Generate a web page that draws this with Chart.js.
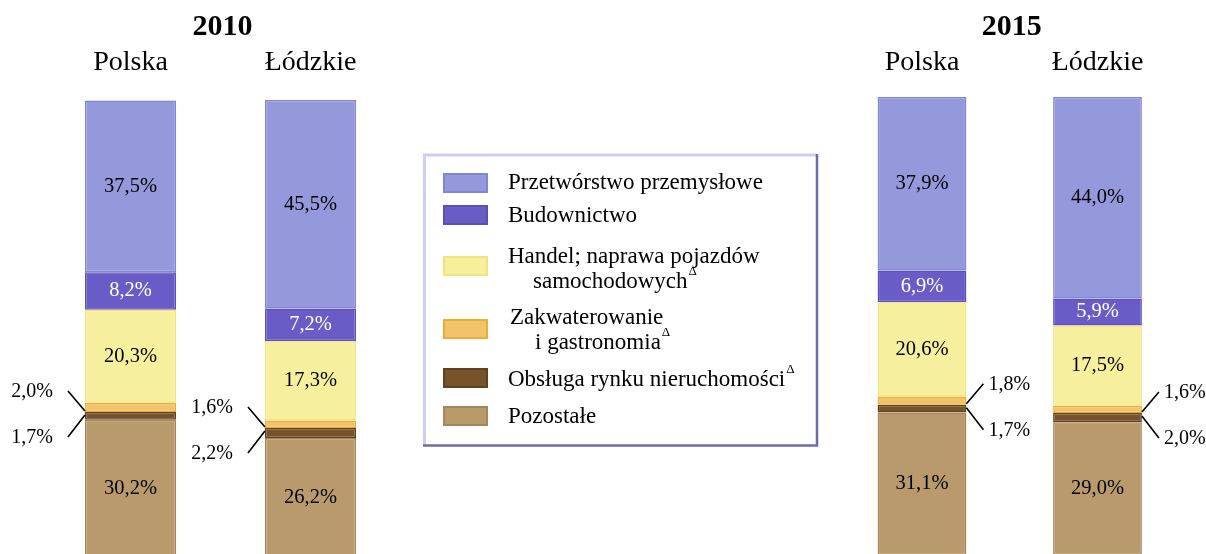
<!DOCTYPE html>
<html>
<head>
<meta charset="utf-8">
<script src="https://cdn.jsdelivr.net/npm/chart.js@4/dist/chart.umd.min.js"></script>
<style>
  html, body { margin: 0; padding: 0; background: #ffffff; overflow: hidden; width: 1206px; height: 554px; }
  canvas { position: absolute; left: 0; top: 0; }
</style>
</head>
<body>
<canvas id="c2010" width="1206" height="560" style="width:1206px;height:560px"></canvas>
<canvas id="c2015" width="1206" height="560" style="width:1206px;height:560px"></canvas>
<script>
// ---------- DATA ----------
const categories = ['Polska', 'Łódzkie'];
const years = ['2010', '2015'];

const przetworstwo2010   = [37.5, 45.5];
const budownictwo2010    = [8.2, 7.2];
const handel2010         = [20.3, 17.3];
const zakwaterowanie2010 = [2.0, 1.6];
const obsluga2010        = [1.7, 2.2];
const pozostale2010      = [30.2, 26.2];

const przetworstwo2015   = [37.9, 44.0];
const budownictwo2015    = [6.9, 5.9];
const handel2015         = [20.6, 17.5];
const zakwaterowanie2015 = [1.8, 1.6];
const obsluga2015        = [1.7, 2.0];
const pozostale2015      = [31.1, 29.0];

const seriesNames = [
  'Przetwórstwo przemysłowe',
  'Budownictwo',
  'Handel; naprawa pojazdów samochodowych',
  'Zakwaterowanie i gastronomia',
  'Obsługa rynku nieruchomości',
  'Pozostałe'
];

// ---------- STYLE ----------
const fills   = ['#9598da', '#6a5cc6', '#f6ef9e', '#f1c46c', '#76532b', '#b99a6d'];
const borders = ['#8186d2', '#5b4fb8', '#f0e57c', '#eeac30', '#5f4220', '#a68558'];
const valueColors = ['#000', '#fff', '#000', '#000', '#000', '#000'];
const FONT = '"Liberation Serif", "Times New Roman", serif';
const fmt = v => v.toFixed(1).replace('.', ',') + '%';

function buildDatasets(p, b, h, z, o, r) {
  // stacking order bottom -> top
  const order = [5, 4, 3, 2, 1, 0];
  const vals = [p, b, h, z, o, r];
  return order.map(k => ({
    label: seriesNames[k],
    data: vals[k],
    seriesIndex: k,
    small: (k === 3 || k === 4),
    backgroundColor: fills[k],
    borderColor: borders[k],
    borderWidth: 1.5,
    borderSkipped: false,
    categoryPercentage: 1.0,
    barPercentage: 0.506
  }));
}

function drawLegend(ctx) {
  ctx.save();
  // box
  ctx.fillStyle = '#ffffff';
  ctx.fillRect(424, 154, 393, 292);
  ctx.strokeStyle = '#cdcdf7';
  ctx.lineWidth = 3;
  ctx.beginPath();
  ctx.moveTo(424.5, 446); ctx.lineTo(424.5, 155); ctx.lineTo(816, 155);
  ctx.stroke();
  ctx.strokeStyle = '#6c6ca6';
  ctx.lineWidth = 2.5;
  ctx.beginPath();
  ctx.moveTo(817, 154); ctx.lineTo(817, 445.5); ctx.lineTo(423, 445.5);
  ctx.stroke();

  const swTops = [173, 205, 256, 319, 368, 406];
  const lines = [
    [[seriesNames[0], 508, 183, false]],
    [[seriesNames[1], 508, 216, false]],
    [['Handel; naprawa pojazdów', 508, 257, false], ['samochodowych', 533, 282, true]],
    [['Zakwaterowanie', 510, 318, false], ['i gastronomia', 535, 343, true]],
    [['Obsługa rynku nieruchomości', 508, 380, true]],
    [['Pozostałe', 508, 417, false]]
  ];
  for (let k = 0; k < 6; k++) {
    ctx.fillStyle = fills[k];
    ctx.fillRect(443, swTops[k], 45, 20);
    ctx.strokeStyle = borders[k];
    ctx.lineWidth = 2;
    ctx.strokeRect(444, swTops[k] + 1, 43, 18);
    ctx.fillStyle = '#000';
    ctx.textAlign = 'left';
    ctx.textBaseline = 'middle';
    lines[k].forEach(([t, x, y, delta]) => {
      ctx.font = '23px ' + FONT;
      ctx.fillText(t, x, y);
      if (delta) {
        const w = ctx.measureText(t).width;
        ctx.font = '13px ' + FONT;
        ctx.fillText('Δ', x + w + 1, y - 10);
      }
    });
  }
  ctx.restore();
}

function makePlugin(year, side, withLegend) {
  return {
    id: 'annot' + year,
    afterDatasetsDraw(chart) {
      const ctx = chart.ctx;
      const xs = chart.scales.x;
      ctx.save();
      // year title
      ctx.fillStyle = '#000';
      ctx.textAlign = 'center';
      ctx.textBaseline = 'middle';
      ctx.font = 'bold 30px ' + FONT;
      ctx.fillText(year, (xs.getPixelForValue(0) + xs.getPixelForValue(1)) / 2 + 2, 27);
      // category labels
      ctx.textBaseline = 'alphabetic';
      ctx.font = '28px ' + FONT;
      categories.forEach((c, i) => ctx.fillText(c, xs.getPixelForValue(i), 70));

      // values inside bars
      ctx.font = '20.5px ' + FONT;
      ctx.textBaseline = 'middle';
      chart.data.datasets.forEach((ds, di) => {
        if (ds.small) return;
        const meta = chart.getDatasetMeta(di);
        meta.data.forEach((el, i) => {
          const p = el.getProps(['x', 'y', 'base'], true);
          ctx.fillStyle = valueColors[ds.seriesIndex];
          ctx.fillText(fmt(ds.data[i]), p.x, (p.y + p.base) / 2);
        });
      });

      // leader labels for small segments
      ctx.font = '20px ' + FONT;
      const diZ = chart.data.datasets.findIndex(d => d.seriesIndex === 3);
      const diO = chart.data.datasets.findIndex(d => d.seriesIndex === 4);
      const metaO = chart.getDatasetMeta(diO);
      ctx.strokeStyle = '#000';
      ctx.lineWidth = 1.6;
      ctx.fillStyle = '#000';
      metaO.data.forEach((el, i) => {
        const p = el.getProps(['x', 'y', 'base', 'width'], true);
        const boundary = p.y;
        const dir = side === 'left' ? -1 : 1;
        const ex = side === 'left' ? p.x - p.width / 2 : p.x + p.width / 2;
        const upEnd = [ex, boundary - 1];
        const upStart = [ex + dir * 17, boundary - 21];
        const loEnd = [ex, boundary + 3];
        const loStart = [ex + dir * 17, boundary + 25];
        ctx.beginPath();
        ctx.moveTo(upStart[0], upStart[1]); ctx.lineTo(upEnd[0], upEnd[1]);
        ctx.moveTo(loStart[0], loStart[1]); ctx.lineTo(loEnd[0], loEnd[1]);
        ctx.stroke();
        ctx.textAlign = side === 'left' ? 'right' : 'left';
        const tx = side === 'left' ? upStart[0] - 15 : upStart[0] + 5;
        ctx.fillText(fmt(chart.data.datasets[diZ].data[i]), tx, upStart[1] + 1);
        ctx.fillText(fmt(chart.data.datasets[diO].data[i]), tx, loStart[1] + 1);
      });
      ctx.restore();
      if (withLegend) drawLegend(ctx);
    }
  };
}

function makeChart(id, year, datasets, padding, side, withLegend) {
  return new Chart(document.getElementById(id), {
    type: 'bar',
    data: { labels: categories, datasets },
    options: {
      responsive: false,
      animation: false,
      devicePixelRatio: 1,
      layout: { padding },
      plugins: { legend: { display: false }, title: { display: false }, tooltip: { enabled: false } },
      scales: {
        x: { stacked: true, display: false },
        y: { stacked: true, display: false, min: 0, max: 100 }
      }
    },
    plugins: [makePlugin(year, side, withLegend)]
  });
}

makeChart('c2010', years[0],
  buildDatasets(przetworstwo2010, budownictwo2010, handel2010, zakwaterowanie2010, obsluga2010, pozostale2010),
  { left: 40.5, right: 805.5, top: 100, bottom: 2 }, 'left', true);

makeChart('c2015', years[1],
  buildDatasets(przetworstwo2015, budownictwo2015, handel2015, zakwaterowanie2015, obsluga2015, pozostale2015),
  { left: 834.25, right: 20.75, top: 97, bottom: 5 }, 'right', false);
</script>
</body>
</html>
